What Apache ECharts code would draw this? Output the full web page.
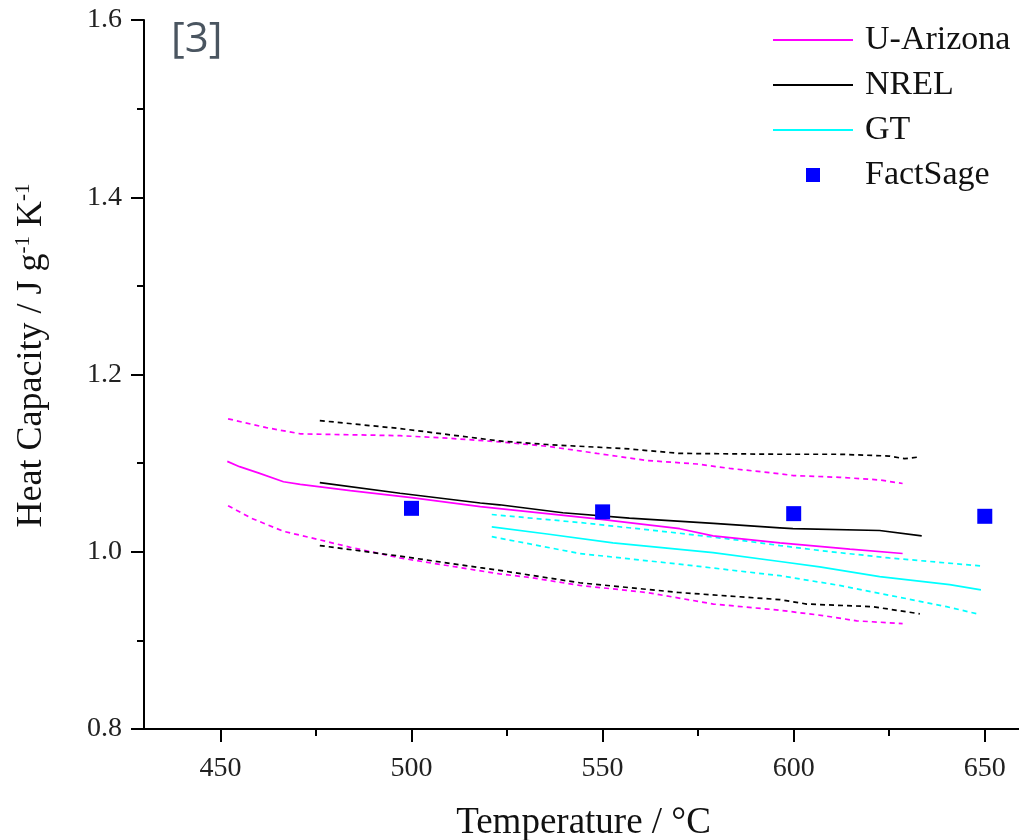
<!DOCTYPE html>
<html>
<head>
<meta charset="utf-8">
<script src="https://cdn.jsdelivr.net/npm/echarts@6/dist/echarts.min.js"></script>
<style>
	html, body { margin: 0; padding: 0; background: #fff; }
	#chart1 { width: 1019px; height: 840px; }
</style>
</head>
<body>
<div id="chart1"></div>
<script>
// 값은 그림에서 읽은 추정치 [온도, 열용량]
var arizonaMain = [[451.8,1.102],[455,1.096],[459.9,1.089],[466.5,1.079],[470.9,1.076],[484,1.069],[500,1.061],[518,1.051],[548.5,1.037],[570.2,1.026],[578.9,1.018],[596.4,1.010],[614.7,1.003],[628.5,0.998]];
var arizonaUpper = [[452,1.150],[462,1.140],[471,1.133],[484,1.132],[497,1.131],[510,1.128],[523,1.124],[535.5,1.119],[548.5,1.111],[561.6,1.103],[574.7,1.099],[583.3,1.094],[596.4,1.088],[599.8,1.086],[612,1.084],[622.5,1.081],[628.5,1.077]];
var arizonaLower = [[452,1.052],[458,1.038],[466.5,1.023],[473.5,1.016],[484,1.005],[497,0.993],[510,0.984],[523,0.975],[531,0.971],[544,0.962],[561.6,0.954],[579,0.941],[596.4,0.934],[607.6,0.928],[616.5,0.922],[628.5,0.919]];

var nrelMain = [[476,1.078],[497,1.066],[518,1.055],[523,1.053],[539.6,1.044],[557,1.038],[579,1.032],[596.4,1.027],[599.8,1.026],[622.5,1.024],[633.5,1.018]];
var nrelUpper = [[476,1.148],[497,1.139],[523,1.125],[535.5,1.121],[557,1.116],[570,1.111],[596.4,1.110],[612,1.110],[625,1.108],[629,1.105],[633,1.107]];
var nrelLower = [[476,1.007],[497,0.995],[518,0.982],[523,0.979],[544,0.965],[570,0.954],[596.4,0.946],[603.4,0.941],[620.7,0.938],[633,0.930]];

var gtMain = [[521,1.028],[535.5,1.020],[552.7,1.010],[578.9,0.999],[596.4,0.989],[606.8,0.983],[622.5,0.972],[640.8,0.963],[649,0.957]];
var gtUpper = [[521,1.042],[544,1.033],[570,1.021],[587.7,1.012],[596.4,1.007],[607.6,1.001],[625,0.993],[649,0.984]];
var gtLower = [[521,1.017],[544,0.998],[570,0.986],[596.4,0.973],[612,0.962],[629.6,0.947],[640,0.938],[648,0.930]];

var factSage = [[500,1.049],[550,1.045],[600,1.043],[650,1.040]];

var xMajorTicks = [450, 500, 550, 600, 650];
var xMinorTicks = [475, 525, 575, 625];

var serifFont = '"Liberation Serif", "DejaVu Serif", serif';

// 범례 아이콘: 80x15 상자 안의 가는 선 / 작은 사각형
var lineIcon = 'path://M0,0L0.01,0L0.01,0.01Z M0,6.5L80,6.5L80,8.5L0,8.5Z M80,15L79.99,15L79.99,14.99Z';
var squareIcon = 'path://M0,0L0.01,0L0.01,0.01Z M33,0.5L47,0.5L47,14.5L33,14.5Z M80,15L79.99,15L79.99,14.99Z';

function lineSeries(name, data, color, dashed) {
	return {
		name: name, type: 'line', data: data, symbol: 'none', showSymbol: false,
		lineStyle: {color: color, width: 1.7, type: dashed ? [5, 4] : 'solid'},
		itemStyle: {color: color}, z: dashed ? 2 : 3
	};
}

var option = {
	animation: false,
	grid: {left: 144, top: 20, right: -4, bottom: 111, containLabel: false, outerBoundsMode: 'none'},
	legend: {
		data: [
			{name: 'U-Arizona', icon: lineIcon},
			{name: 'NREL', icon: lineIcon},
			{name: 'GT', icon: lineIcon},
			{name: 'FactSage', icon: squareIcon}
		],
		orient: 'vertical', left: 768, top: 18,
		itemWidth: 80, itemHeight: 15, itemGap: 11,
		textStyle: {fontFamily: serifFont, fontSize: 34, color: '#111', padding: [0, 0, 0, 7]}
	},
	graphic: [{
		type: 'text', left: 171, top: 19,
		style: {text: '[3]', fontFamily: '"Open Sans", "Noto Sans", sans-serif', fontSize: 42, fill: '#4a5560'}
	}],
	xAxis: [{
		type: 'value', min: 430, max: 660,
		name: 'Temperature / °C', nameLocation: 'middle', nameGap: 76,
		nameTextStyle: {fontFamily: serifFont, fontSize: 37, color: '#111'},
		axisLine: {show: true, onZero: false, lineStyle: {color: '#000', width: 2}},
		axisTick: {show: true, inside: false, length: 13, lineStyle: {color: '#000', width: 2}, customValues: xMajorTicks},
		axisLabel: {show: true, margin: 26, fontFamily: serifFont, fontSize: 28, color: '#222', customValues: xMajorTicks},
		splitLine: {show: false}
	}, {
		type: 'value', min: 430, max: 660, position: 'bottom',
		axisLine: {show: false},
		axisTick: {show: true, inside: false, length: 7, lineStyle: {color: '#000', width: 2}, customValues: xMinorTicks},
		axisLabel: {show: false},
		splitLine: {show: false}
	}],
	yAxis: {
		type: 'value', min: 0.8, max: 1.6, interval: 0.2,
		name: '{t|Heat Capacity / J g}{s|-1}{t| K}{s|-1}', nameLocation: 'middle', nameGap: 94, nameRotate: 90,
		nameTextStyle: {
			padding: [0, 0, 0, 38],
			rich: {
				t: {fontFamily: serifFont, fontSize: 36, color: '#111'},
				s: {fontFamily: serifFont, fontSize: 21, color: '#111', verticalAlign: 'top', padding: [0, 0, 16, 0]}
			}
		},
		axisLine: {show: true, onZero: false, lineStyle: {color: '#000', width: 2}},
		axisTick: {show: true, inside: false, length: 13, lineStyle: {color: '#000', width: 2}},
		minorTick: {show: true, splitNumber: 2, length: 7, lineStyle: {color: '#000', width: 2}},
		axisLabel: {show: true, margin: 22, fontFamily: serifFont, fontSize: 28, color: '#222',
			formatter: function(v) { return v.toFixed(1); }},
		splitLine: {show: false}
	},
	series: [
		lineSeries('U-Arizona upper', arizonaUpper, '#ff00ff', true),
		lineSeries('U-Arizona lower', arizonaLower, '#ff00ff', true),
		lineSeries('NREL upper', nrelUpper, '#000000', true),
		lineSeries('NREL lower', nrelLower, '#000000', true),
		lineSeries('GT upper', gtUpper, '#00ffff', true),
		lineSeries('GT lower', gtLower, '#00ffff', true),
		lineSeries('U-Arizona', arizonaMain, '#ff00ff', false),
		lineSeries('NREL', nrelMain, '#000000', false),
		lineSeries('GT', gtMain, '#00ffff', false),
		{
			name: 'FactSage', type: 'scatter', data: factSage,
			symbol: 'rect', symbolSize: 15, itemStyle: {color: '#0000ff', opacity: 1}, z: 5
		}
	]
};

var myChart1 = echarts.init(document.getElementById('chart1'));
myChart1.setOption(option);
</script>
</body>
</html>
